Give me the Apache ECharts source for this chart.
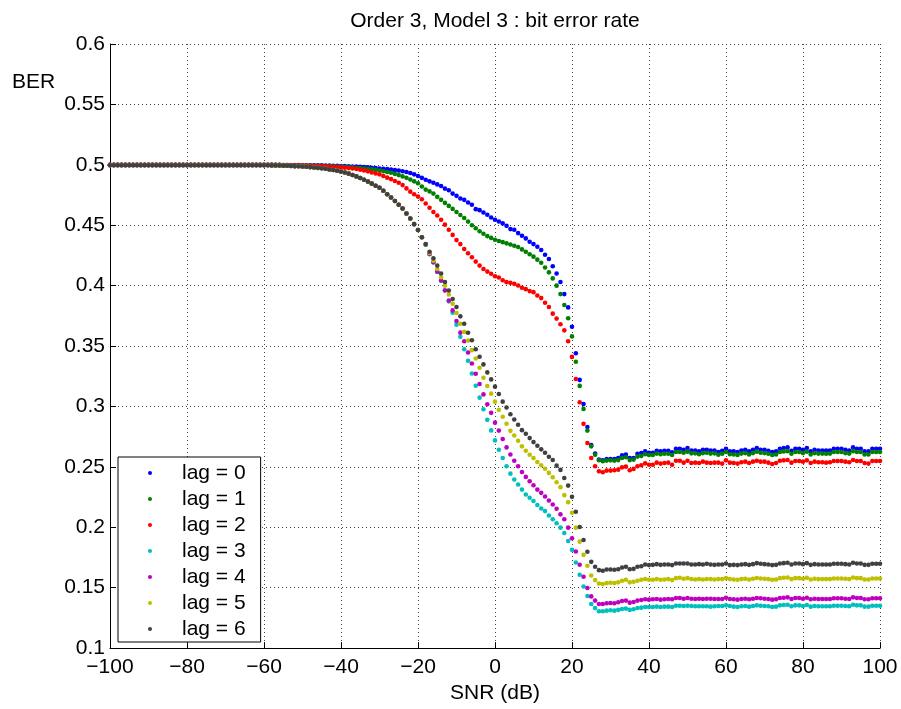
<!DOCTYPE html>
<html><head><meta charset="utf-8">
<script src="https://cdn.jsdelivr.net/npm/echarts/dist/echarts.min.js"></script>
<style>html,body{margin:0;padding:0;background:#fff}#c{width:901px;height:709px}</style>
</head><body><div id="c"></div><script>
// SNR grid (dB), one sample per dB from -100 to 100
const snr = [];
for (let x = -100; x <= 100; x++) snr.push(x);

const seriesNames = ['lag = 0', 'lag = 1', 'lag = 2', 'lag = 3', 'lag = 4', 'lag = 5', 'lag = 6'];
const xTicks = [-100, -80, -60, -40, -20, 0, 20, 40, 60, 80, 100];

const lag0 = [
 0.5,0.5,0.5,0.5,0.5,0.5,0.5,0.5,0.5,0.5, 0.5,0.5,0.5,0.5,0.5,0.5,0.5,0.5,0.5,0.5,
 0.5,0.5,0.5,0.5,0.5,0.5,0.5,0.5,0.5,0.5, 0.5,0.5,0.5,0.5,0.5,0.5,0.5,0.5,0.5,0.5,
 0.5,0.5,0.5,0.5,0.5,0.4999,0.4999,0.4998,0.4998,0.4998,
 0.4997,0.4997,0.4996,0.4996,0.4995,0.4995,0.4994,0.4993,0.4992,0.4991,
 0.499,0.4989,0.4988,0.4986,0.4985,0.4983,0.4981,0.4979,0.4976,0.4973,
 0.497,0.4967,0.4964,0.496,0.4956,0.4952,0.4947,0.494,0.4932,0.4921,
 0.4908,0.4892,0.4876,0.4863,0.4852,0.4838,0.4825,0.4803,0.479,0.4762,
 0.4743,0.4721,0.471,0.4688,0.4669,0.4633,0.4625,0.4605,0.4587,0.4564,
 0.4545,0.4531,0.4515,0.4495,0.4468,0.4462,0.4435,0.4413,0.4391,0.4363,
 0.4344,0.4322,0.4295,0.4256,0.4221,0.416,0.41,0.403,0.393,0.382,
 0.366,0.344,0.322,0.302,0.283,0.268,0.261,0.256,0.2554,0.2565,
 0.2565,0.2565,0.2573,0.2595,0.2601,0.2573,0.2573,0.2609,0.2614,0.2628,
 0.2617,0.2617,0.2634,0.2628,0.2634,0.2634,0.262,0.265,0.265,0.2642,
 0.2656,0.2636,0.2636,0.2628,0.2642,0.2642,0.2636,0.2636,0.2623,0.2634,
 0.265,0.2628,0.2628,0.2623,0.2636,0.2642,0.2628,0.2642,0.2656,0.2642,
 0.2642,0.2634,0.2623,0.2628,0.265,0.2656,0.2661,0.2634,0.265,0.265,
 0.2642,0.2656,0.2628,0.2642,0.2636,0.2636,0.2636,0.2636,0.265,0.265,
 0.265,0.2642,0.2636,0.2661,0.265,0.265,0.2628,0.2628,0.265,0.265,
 0.265
];

const lag1 = [
 0.5,0.5,0.5,0.5,0.5,0.5,0.5,0.5,0.5,0.5, 0.5,0.5,0.5,0.5,0.5,0.5,0.5,0.5,0.5,0.5,
 0.5,0.5,0.5,0.5,0.5,0.5,0.5,0.5,0.5,0.5, 0.5,0.5,0.5,0.5,0.5,0.5,0.5,0.5,0.5,0.5,
 0.5,0.5,0.5,0.5,0.5,0.4998,0.4998,0.4997,0.4997,0.4996,
 0.4996,0.4995,0.4994,0.4993,0.4992,0.4991,0.499,0.4989,0.4988,0.4986,
 0.4985,0.4983,0.4981,0.4979,0.4976,0.4973,0.497,0.4966,0.4962,0.4958,
 0.4953,0.4947,0.4941,0.4934,0.4925,0.4915,0.4904,0.4892,0.4878,0.4863,
 0.4848,0.482,0.4795,0.478,0.4762,0.4735,0.471,0.4685,0.466,0.4635,
 0.461,0.4585,0.456,0.453,0.45,0.4475,0.445,0.443,0.441,0.4395,
 0.438,0.437,0.436,0.435,0.434,0.433,0.432,0.43,0.428,0.426,
 0.424,0.4215,0.419,0.415,0.411,0.406,0.4,0.393,0.384,0.373,
 0.358,0.337,0.317,0.298,0.28,0.267,0.26,0.2555,0.2546,0.2552,
 0.2554,0.2552,0.2556,0.2573,0.258,0.2556,0.256,0.2585,0.259,0.2605,
 0.2598,0.2598,0.261,0.2605,0.2608,0.2608,0.2598,0.2623,0.2623,0.2617,
 0.2626,0.2612,0.2612,0.2605,0.2614,0.2617,0.261,0.2612,0.26,0.2608,
 0.2623,0.2605,0.2603,0.2598,0.261,0.2614,0.2603,0.2614,0.2626,0.2617,
 0.2614,0.2608,0.2598,0.2603,0.2623,0.2628,0.263,0.2608,0.2623,0.2623,
 0.2614,0.2626,0.2603,0.2614,0.261,0.261,0.2608,0.261,0.2623,0.2623,
 0.2623,0.2614,0.261,0.263,0.2623,0.2623,0.2603,0.2603,0.2623,0.2623,
 0.2623
];

const lag2 = [
 0.5,0.5,0.5,0.5,0.5,0.5,0.5,0.5,0.5,0.5, 0.5,0.5,0.5,0.5,0.5,0.5,0.5,0.5,0.5,0.5,
 0.5,0.5,0.5,0.5,0.5,0.5,0.5,0.5,0.5,0.5, 0.5,0.5,0.5,0.5,0.5,0.5,0.5,0.5,0.5,0.5,
 0.5,0.5,0.5,0.4998,0.4998,0.4997,0.4997,0.4996,0.4996,0.4995,
 0.4994,0.4993,0.4992,0.4991,0.499,0.4989,0.4987,0.4985,0.4983,0.4981,
 0.4979,0.4976,0.4973,0.4969,0.4965,0.496,0.4954,0.4946,0.4937,0.4929,
 0.4921,0.4908,0.4894,0.4882,0.4866,0.4852,0.4832,0.4805,0.4778,0.4757,
 0.4737,0.4715,0.468,0.4645,0.461,0.458,0.4545,0.4505,0.4463,0.442,
 0.4377,0.4344,0.4303,0.4268,0.4235,0.4199,0.4166,0.4138,0.4116,0.4098,
 0.4078,0.4067,0.4045,0.4029,0.4023,0.4015,0.4001,0.3982,0.3971,0.3955,
 0.3946,0.3918,0.3897,0.3858,0.3823,0.3768,0.3727,0.368,0.363,0.354,
 0.341,0.3227,0.3035,0.2856,0.2697,0.2573,0.2505,0.2464,0.2455,0.2469,
 0.2469,0.2472,0.2477,0.2496,0.2502,0.2472,0.2483,0.2505,0.2513,0.2529,
 0.2518,0.2518,0.2535,0.2527,0.2532,0.2535,0.2518,0.2551,0.2551,0.2535,
 0.2551,0.2532,0.2535,0.2532,0.2543,0.2535,0.2532,0.2535,0.2535,0.2527,
 0.2554,0.2535,0.2532,0.2527,0.2538,0.2543,0.2532,0.2543,0.2551,0.2543,
 0.2543,0.2535,0.2524,0.2532,0.2551,0.2554,0.2557,0.2535,0.2548,0.2548,
 0.2543,0.2554,0.2532,0.2543,0.2538,0.2538,0.2535,0.2538,0.2548,0.2548,
 0.2548,0.2543,0.2538,0.2557,0.2548,0.2548,0.2532,0.2527,0.2548,0.2548,
 0.2548
];

// lags 3..6 coincide (to the eye) from -100 dB to -19 dB
const lowLagsHead = [
 0.4996,0.4996,0.4996,0.4996,0.4996,0.4996,0.4996,0.4996,0.4996,0.4996,
 0.4996,0.4996,0.4996,0.4996,0.4996,0.4996,0.4996,0.4996,0.4996,0.4996,
 0.4996,0.4996,0.4996,0.4996,0.4996,0.4996,0.4996,0.4996,0.4996,0.4996,
 0.4996,0.4996,0.4996,0.4996,0.4996,0.4996,0.4996,0.4996,0.4996,0.4996,
 0.4996,0.4996,0.4995,0.4995,0.4994,0.4993,0.4992,0.4991,0.4989,0.4988,
 0.4986,0.4984,0.4981,0.4978,0.4975,0.4971,0.4967,0.4962,0.4957,0.4951,
 0.4944,0.4936,0.4927,0.4916,0.4904,0.4891,0.4877,0.4861,0.4844,0.4827,
 0.481,0.4785,0.4757,0.4729,0.47,0.4669,0.4638,0.4597,0.4556,0.4509,
 0.446,0.44
];

const lag3 = lowLagsHead.concat([
 0.4338,0.426,0.4192,0.4113,0.404,0.3962,0.387,0.3776,
 0.3677,0.3576,0.3474,0.3378,0.3273,0.3172,0.3073,0.2977,0.2889,0.2802,
 0.2719,0.2642,0.2573,0.2505,0.2444,0.2395,0.2354,0.2312,0.2271,0.2244,
 0.2217,0.2184,0.2156,0.2134,0.2098,0.2066,0.2033,0.1997,0.1953,0.1887,
 0.1813,0.1708,0.1607,0.151,0.1431,0.1365,0.1331,0.1305,0.1305,0.131,
 0.1313,0.131,0.1316,0.1324,0.1327,0.1316,0.1321,0.1332,0.1335,0.134,
 0.134,0.134,0.1343,0.134,0.1343,0.1343,0.134,0.1351,0.1351,0.1349,
 0.1351,0.1349,0.1346,0.1346,0.1346,0.1346,0.1343,0.1346,0.1349,0.1349,
 0.1354,0.1349,0.1343,0.134,0.1346,0.1349,0.1343,0.1349,0.1354,0.1351,
 0.1349,0.1346,0.134,0.1343,0.1354,0.1357,0.1359,0.1346,0.1354,0.1354,
 0.1349,0.1357,0.1343,0.1349,0.1346,0.1346,0.1346,0.1346,0.1351,0.1351,
 0.1351,0.1349,0.1346,0.1359,0.1354,0.1354,0.1343,0.1343,0.1351,0.1351,
 0.1351
]);

const lag4 = lowLagsHead.concat([
 0.434,0.4262,0.4194,0.4117,0.4042,0.396,0.3877,0.3795,
 0.3707,0.3611,0.354,0.3447,0.3356,0.3271,0.3186,0.31,0.3018,0.2947,
 0.2866,0.28,0.2731,0.2661,0.2603,0.2551,0.2505,0.2458,0.2417,0.2381,
 0.2348,0.2312,0.2285,0.2255,0.2222,0.2189,0.2153,0.2107,0.2066,0.1997,
 0.1909,0.18,0.169,0.159,0.1497,0.1428,0.1393,0.1365,0.1365,0.1371,
 0.1373,0.1371,0.1379,0.139,0.1393,0.1376,0.1382,0.1393,0.1398,0.1404,
 0.1401,0.1404,0.1406,0.1401,0.1404,0.1406,0.1404,0.1415,0.1415,0.1409,
 0.1415,0.1409,0.1406,0.1409,0.1406,0.1409,0.1409,0.1406,0.1406,0.1406,
 0.1417,0.1406,0.1404,0.1401,0.1406,0.1409,0.1404,0.1409,0.1415,0.1412,
 0.1409,0.1406,0.1401,0.1404,0.1415,0.1417,0.142,0.1406,0.1415,0.1415,
 0.1409,0.1417,0.1404,0.1409,0.1406,0.1406,0.1406,0.1406,0.1412,0.1412,
 0.1412,0.1409,0.1406,0.142,0.1415,0.1415,0.1404,0.1404,0.1412,0.1412,
 0.1412
]);

const lag5 = lowLagsHead.concat([
 0.4342,0.427,0.4207,0.4138,0.407,0.4,0.3927,0.385,
 0.3773,0.3685,0.3617,0.3545,0.3466,0.3397,0.332,0.3238,0.3169,0.3106,
 0.304,0.2972,0.2915,0.2857,0.2798,0.276,0.2716,0.267,0.2633,0.26,
 0.2573,0.254,0.2513,0.2485,0.245,0.2414,0.2373,0.2332,0.2266,0.2208,
 0.212,0.1997,0.1881,0.1772,0.1681,0.1601,0.1563,0.1535,0.153,0.1538,
 0.1541,0.1538,0.1544,0.1557,0.1566,0.1544,0.1549,0.1557,0.1566,0.1571,
 0.1566,0.1566,0.1571,0.1566,0.1568,0.1571,0.1563,0.1579,0.1582,0.1574,
 0.1579,0.1571,0.1568,0.1571,0.1568,0.1571,0.1571,0.1568,0.1571,0.1571,
 0.1579,0.1571,0.1568,0.1566,0.1571,0.1574,0.1568,0.1574,0.158,0.1576,
 0.1574,0.1571,0.1566,0.1568,0.1579,0.1582,0.1584,0.1571,0.1579,0.1579,
 0.1574,0.1582,0.1568,0.1574,0.1571,0.1571,0.1571,0.1571,0.1576,0.1576,
 0.1576,0.1574,0.1571,0.1584,0.1579,0.1579,0.1568,0.1568,0.1576,0.1576,
 0.1576
]);

const lag6 = lowLagsHead.concat([
 0.4344,0.428,0.4226,0.4166,0.41,0.403,0.396,0.389,
 0.3823,0.3746,0.3685,0.361,0.3548,0.3474,0.3411,0.3348,0.3282,0.3224,
 0.3164,0.3103,0.304,0.2991,0.2936,0.2892,0.2848,0.2804,0.2774,0.2738,
 0.2705,0.2675,0.2645,0.2617,0.2584,0.2557,0.251,0.2475,0.2408,0.2345,
 0.2252,0.2128,0.2002,0.1895,0.1797,0.1714,0.1673,0.1645,0.164,0.1651,
 0.1651,0.1648,0.1653,0.1667,0.1673,0.1653,0.1656,0.1673,0.1678,0.1692,
 0.1687,0.1689,0.1695,0.1689,0.1692,0.1692,0.1687,0.17,0.17,0.17,
 0.17,0.1692,0.1692,0.1695,0.1692,0.1698,0.1692,0.1689,0.1692,0.1692,
 0.17,0.1687,0.1689,0.1687,0.1692,0.1695,0.1689,0.1695,0.1703,0.1698,
 0.1695,0.1692,0.1687,0.1689,0.17,0.1703,0.1706,0.1692,0.17,0.17,
 0.1695,0.1703,0.1689,0.1695,0.1692,0.1692,0.1692,0.1692,0.1698,0.1698,
 0.1698,0.1695,0.1692,0.1706,0.17,0.17,0.1689,0.1689,0.1698,0.1698,
 0.1698
]);

const allValues = [lag0, lag1, lag2, lag3, lag4, lag5, lag6];
const colors = ['#0000ff', '#008000', '#ff0000', '#00bfbf', '#bf00bf', '#bfbf00', '#404040'];

const FONT = '"Liberation Sans", Arial, Helvetica, sans-serif';
const chart = echarts.init(document.getElementById('c'), null, { renderer: 'canvas' });

const series = allValues.map((vals, i) => ({
  name: seriesNames[i],
  type: 'scatter',
  symbol: 'circle',
  symbolSize: 4.6,
  itemStyle: { color: colors[i], opacity: 1 },
  emphasis: { disabled: true },
  silent: true,
  data: snr.map((x, k) => [x, vals[k]])
}));

chart.setOption({
  animation: false,
  backgroundColor: '#ffffff',
  grid: { left: 110, right: 21, top: 44, bottom: 58, containLabel: false },
  xAxis: {
    type: 'value', min: xTicks[0], max: xTicks[xTicks.length - 1], interval: 20,
    name: 'SNR (dB)', nameLocation: 'middle', nameGap: 33,
    nameTextStyle: { color: '#000', fontSize: 21, fontFamily: FONT },
    axisLine: { onZero: false, lineStyle: { color: '#000', width: 1 } },
    axisTick: { inside: true, length: 6, lineStyle: { color: '#000' } },
    axisLabel: { color: '#000', fontSize: 21, fontFamily: FONT, margin: 9,
      formatter: v => String(v).replace('-', '\u2212') },
    splitLine: { show: true, lineStyle: { color: '#444', type: [1, 3], width: 1 } }
  },
  yAxis: {
    type: 'value', min: 0.1, max: 0.6, interval: 0.05,
    axisLine: { show: true, onZero: false, lineStyle: { color: '#000', width: 1 } },
    axisTick: { show: true, inside: true, length: 6, lineStyle: { color: '#000' } },
    axisLabel: { color: '#000', fontSize: 21, fontFamily: FONT, margin: 5 },
    splitLine: { show: true, lineStyle: { color: '#444', type: [1, 3], width: 1 } }
  },
  legend: {
    orient: 'vertical', left: 118, top: 457,
    itemWidth: 4, itemHeight: 4, itemGap: 0,
    padding: [3, 15, 0, 30],
    borderColor: '#000', borderWidth: 1, backgroundColor: '#fff',
    icon: 'circle', selectedMode: false,
    textStyle: { color: '#000', fontSize: 21, fontFamily: FONT, lineHeight: 26, padding: [0, 0, 0, 25] },
    data: seriesNames
  },
  graphic: [
    { type: 'text', x: 495, y: 21, silent: true,
      style: { text: 'Order 3, Model 3 : bit error rate', font: '21px ' + FONT, fill: '#000',
        textAlign: 'center', textVerticalAlign: 'middle', align: 'center', verticalAlign: 'middle' } },
    { type: 'text', x: 12, y: 82, silent: true,
      style: { text: 'BER', font: '21px ' + FONT, fill: '#000',
        textAlign: 'left', textVerticalAlign: 'middle', align: 'left', verticalAlign: 'middle' } }
  ],
  series: series
});
</script></body></html>
